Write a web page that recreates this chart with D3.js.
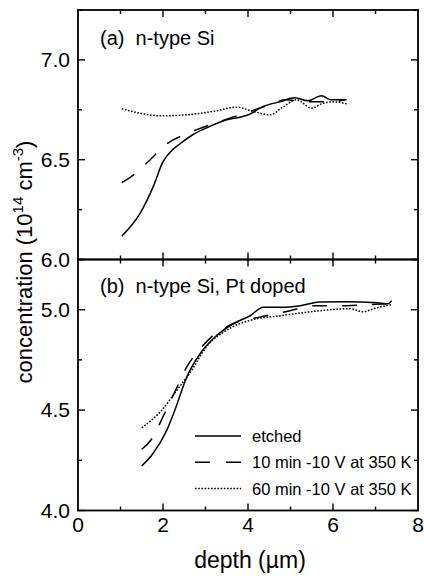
<!DOCTYPE html>
<html>
<head>
<meta charset="utf-8">
<script src="https://cdn.jsdelivr.net/npm/d3@7"></script>
<style>
  body { margin: 0; background: #fff; }
  svg { font-family: Arial, "Liberation Sans", sans-serif; }
</style>
</head>
<body>
<svg id="chart" width="424" height="581"></svg>
<script>
// panel (a) n-type Si : [depth, concentration]
var aEtched = [[1.03,6.117],[1.46,6.231],[1.77,6.365],[2.0,6.49],[2.2,6.545],[2.4,6.58],[2.7,6.625],[3.03,6.66],[3.5,6.70],[3.85,6.715],[4.01,6.725],[4.36,6.767],[4.75,6.79],[5.1,6.81],[5.4,6.795],[5.73,6.82],[5.95,6.80],[6.1,6.80],[6.32,6.80]];
var a10min = [[1.03,6.385],[1.22,6.41],[1.65,6.49],[2.09,6.58],[2.56,6.63],[3.18,6.68],[3.81,6.725],[4.44,6.77],[4.9,6.80],[5.38,6.79],[6.0,6.79],[6.28,6.80]];
var a60min = [[1.03,6.755],[1.46,6.733],[1.93,6.72],[2.56,6.725],[3.18,6.742],[3.73,6.763],[4.12,6.742],[4.52,6.725],[4.83,6.765],[5.14,6.80],[5.5,6.758],[5.73,6.78],[6.0,6.79],[6.32,6.78]];

// panel (b) n-type Si, Pt doped
var bEtched = [[1.5,4.222],[1.77,4.285],[2.09,4.40],[2.28,4.50],[2.56,4.665],[2.87,4.78],[3.18,4.855],[3.65,4.93],[4.05,4.97],[4.36,5.012],[4.84,5.012],[5.23,5.02],[5.69,5.038],[6.32,5.04],[7.03,5.035],[7.3,5.03],[7.38,5.045]];
var b10min = [[1.5,4.305],[1.73,4.355],[2.0,4.467],[2.3,4.60],[2.56,4.715],[2.87,4.805],[3.18,4.872],[3.65,4.93],[4.27,4.963],[4.89,4.99],[5.6,5.02],[6.32,5.02],[6.79,5.025],[7.38,5.03]];
var b60min = [[1.5,4.412],[1.93,4.49],[2.33,4.60],[2.65,4.69],[3.02,4.815],[3.49,4.897],[4.05,4.947],[4.84,4.972],[5.61,4.993],[6.4,5.005],[6.7,4.99],[7.03,5.01],[7.38,5.025]];

var xTicks = [0, 2, 4, 6, 8];
var aTicks = [6.0, 6.5, 7.0];
var bTicks = [4.0, 4.5, 5.0];
var legendLabels = ["etched", "10 min -10 V at 350 K", "60 min -10 V at 350 K"];
var dashes = [null, "15,15", "1.6,1.6"];

var svg = d3.select("#chart");
var left = 78, right = 418;

var x = d3.scaleLinear().domain([0, 8]).range([left, right]);
var yA = d3.scaleLinear().domain([6.0, 7.25]).range([259.5, 10]);
var yB = d3.scaleLinear().domain([4.0, 5.25]).range([510.5, 259.5]);

function drawPanel(y, ticks, series, label, labelY, showX){
  var g = svg.append("g");

  // frame
  g.append("rect")
    .attr("x", left).attr("y", y.range()[1])
    .attr("width", right - left).attr("height", y.range()[0] - y.range()[1])
    .attr("fill", "none").attr("stroke", "#000").attr("stroke-width", 1.8);

  // y ticks inward on both sides (major .5, minor .25)
  var yt = d3.range(y.domain()[0], y.domain()[1] + 0.001, 0.25);
  yt.forEach(function(v){
    var major = Math.abs(v*2 - Math.round(v*2)) < 1e-6;
    var len = major ? 7 : 4;
    g.append("line").attr("x1", left).attr("x2", left + len)
      .attr("y1", y(v)).attr("y2", y(v)).attr("stroke", "#000").attr("stroke-width", 1.4);
    g.append("line").attr("x1", right).attr("x2", right - len)
      .attr("y1", y(v)).attr("y2", y(v)).attr("stroke", "#000").attr("stroke-width", 1.4);
  });

  // x ticks inward top and bottom
  d3.range(1, 8).forEach(function(v){
    var len = v % 2 == 0 ? 7 : 4;
    g.append("line").attr("x1", x(v)).attr("x2", x(v))
      .attr("y1", y.range()[0]).attr("y2", y.range()[0] - len).attr("stroke", "#000").attr("stroke-width", 1.4);
    g.append("line").attr("x1", x(v)).attr("x2", x(v))
      .attr("y1", y.range()[1]).attr("y2", y.range()[1] + len).attr("stroke", "#000").attr("stroke-width", 1.4);
  });

  g.selectAll(".ylab")
    .data(ticks)
    .enter()
    .append("text")
    .attr("x", 70)
    .attr("y", function(d){ return y(d) + 7; })
    .attr("text-anchor", "end")
    .attr("font-size", "21px")
    .text(function(d){ return d3.format(".1f")(d); });

  if(showX){
    g.selectAll(".xlab")
      .data(xTicks)
      .enter()
      .append("text")
      .attr("x", function(d){ return x(d); })
      .attr("y", 532)
      .attr("text-anchor", "middle")
      .attr("font-size", "21px")
      .text(function(d){ return d; });
  }

  g.append("text")
    .attr("x", 100).attr("y", labelY)
    .attr("font-size", "20px")
    .attr("xml:space", "preserve")
    .text(label);

  var line = d3.line()
    .x(function(d){ return x(d[0]); })
    .y(function(d){ return y(d[1]); })
    .curve(d3.curveMonotoneX);

  series.forEach(function(s, i){
    g.append("path")
      .datum(s)
      .attr("d", line)
      .attr("fill", "none")
      .attr("stroke", "#000")
      .attr("stroke-width", 1.5)
      .attr("stroke-dasharray", dashes[i]);
  });
}

drawPanel(yA, aTicks, [aEtched, a10min, a60min], "(a)  n-type Si", 45, false);
drawPanel(yB, bTicks, [bEtched, b10min, b60min], "(b)  n-type Si, Pt doped", 293, true);

// legend
var leg = svg.append("g");
legendLabels.forEach(function(t, i){
  var ly = 436 + i*26.3;
  leg.append("line")
    .attr("x1", 195).attr("x2", 241)
    .attr("y1", ly).attr("y2", ly)
    .attr("stroke", "#000").attr("stroke-width", 1.5)
    .attr("stroke-dasharray", i == 1 ? "15,16" : dashes[i]);
  leg.append("text")
    .attr("x", 252).attr("y", ly + 6)
    .attr("font-size", "16.5px")
    .text(t);
});

// axis titles
svg.append("text")
  .attr("x", (left + right)/2 + 2).attr("y", 568)
  .attr("text-anchor", "middle")
  .attr("font-size", "23px")
  .text("depth (\u00b5m)");

var yt = svg.append("text")
  .attr("transform", "translate(32,262) rotate(-90)")
  .attr("text-anchor", "middle")
  .attr("font-size", "22px");
yt.append("tspan").text("concentration (10");
yt.append("tspan").attr("font-size", "15px").attr("dy", -9).text("14");
yt.append("tspan").attr("dy", 9).text(" cm");
yt.append("tspan").attr("font-size", "15px").attr("dy", -9).text("-3");
yt.append("tspan").attr("dy", 9).text(")");
</script>
</body>
</html>
